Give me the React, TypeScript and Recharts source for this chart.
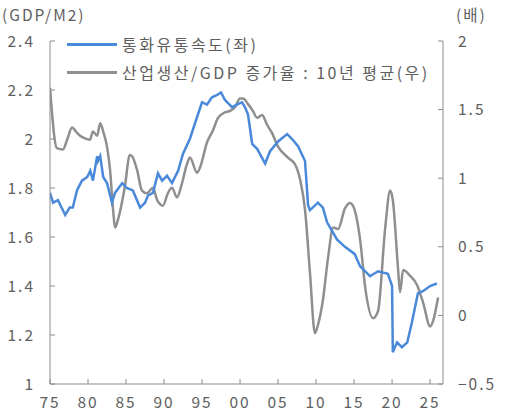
import React from "react";
import { LineChart, Line, XAxis, YAxis } from "recharts";

// 통화유통속도 (좌축, GDP/M2)
const velocityYears = [
  1975.0, 1975.4, 1976.05, 1977.0, 1977.6, 1978.0, 1978.55, 1979.2, 1979.9, 1980.3,
  1980.65, 1981.2, 1981.3, 1981.6, 1982.0, 1982.5, 1983.15, 1983.55, 1984.5, 1985.1,
  1985.9, 1986.85, 1987.5, 1987.9, 1988.55, 1989.2, 1989.75, 1990.4, 1991.05, 1991.85,
  1992.5, 1993.4, 1994.35, 1995.0, 1995.65, 1996.3, 1997.0, 1997.5, 1998.0, 1998.95,
  1999.6, 2000.25, 2000.65, 2001.05, 2001.6, 2002.25, 2003.3, 2003.95, 2005.0, 2006.2,
  2006.85, 2007.65, 2008.55, 2008.95, 2009.2, 2010.25, 2010.9, 2011.45, 2012.75, 2013.8,
  2015.1, 2015.8, 2017.1, 2018.15, 2019.45, 2020.0, 2020.1, 2020.65, 2021.3, 2022.0,
  2022.6, 2023.4, 2024.1, 2025.0, 2025.9,
];
const velocityValues = [
  1.78, 1.74, 1.75, 1.69, 1.72, 1.72, 1.79, 1.83, 1.845, 1.87,
  1.83, 1.93, 1.91, 1.93, 1.845, 1.82, 1.74, 1.78, 1.82, 1.8,
  1.79, 1.72, 1.74, 1.77, 1.78, 1.86, 1.83, 1.85, 1.82, 1.87,
  1.94, 2.0, 2.09, 2.15, 2.14, 2.17, 2.18, 2.19, 2.16, 2.13,
  2.14, 2.15, 2.13, 2.1, 1.98, 1.96, 1.9, 1.95, 1.99, 2.02,
  2.0, 1.97, 1.91, 1.73, 1.71, 1.74, 1.72, 1.66, 1.59, 1.56,
  1.53, 1.48, 1.44, 1.46, 1.45, 1.4, 1.13, 1.17, 1.15, 1.17,
  1.25, 1.37, 1.38, 1.4, 1.41,
];

// 산업생산/GDP 증가율 : 10년 평균 (우축, 배)
const ratioYears = [
  1975.0, 1975.9, 1976.7, 1977.25, 1977.9, 1978.55, 1978.95, 1979.6, 1980.25, 1980.65,
  1981.2, 1981.6, 1982.0, 1982.5, 1982.9, 1983.3, 1983.55, 1983.95, 1984.85, 1985.5,
  1985.8, 1986.45, 1987.1, 1987.75, 1988.55, 1989.1, 1989.85, 1990.5, 1991.05, 1991.7,
  1992.35, 1993.0, 1993.4, 1994.35, 1994.75, 1995.65, 1996.45, 1997.1, 1998.0, 1998.7,
  1999.35, 2000.0, 2000.4, 2001.05, 2001.7, 2002.25, 2002.9, 2003.55, 2004.2, 2005.0,
  2006.3, 2007.25, 2007.9, 2008.55, 2009.2, 2009.85, 2010.25, 2010.9, 2011.6, 2012.25,
  2012.9, 2013.8, 2014.45, 2014.85, 2015.8, 2016.45, 2017.5, 2018.15, 2019.1, 2019.75,
  2020.1, 2020.8, 2021.05, 2021.45, 2022.35, 2023.3, 2024.1, 2025.0, 2025.4, 2026.05,
];
const ratioValues = [
  1.66, 1.22, 1.21, 1.28, 1.37, 1.33, 1.31, 1.29, 1.28, 1.34,
  1.31, 1.4, 1.34, 1.23, 1.06, 0.77, 0.64, 0.7, 0.94, 1.17,
  1.16, 1.06, 0.91, 0.89, 0.93, 0.84, 0.8, 0.89, 0.93, 0.86,
  0.96, 1.1, 1.15, 1.04, 1.08, 1.26, 1.35, 1.44, 1.48, 1.49,
  1.52, 1.58, 1.58, 1.54, 1.49, 1.44, 1.46, 1.39, 1.33, 1.23,
  1.15, 1.1, 0.99, 0.77, 0.31, -0.13, -0.07, 0.11, 0.43, 0.64,
  0.63, 0.78, 0.82, 0.8, 0.55, 0.21, -0.02, 0.03, 0.64, 0.91,
  0.84, 0.33, 0.17, 0.33, 0.29, 0.22, 0.09, -0.08, -0.04, 0.13,
];

const xTicks = [1975, 1980, 1985, 1990, 1995, 2000, 2005, 2010, 2015, 2020, 2025];
const leftTicks = [1, 1.2, 1.4, 1.6, 1.8, 2, 2.2, 2.4];
const rightTicks = [-0.5, 0, 0.5, 1, 1.5, 2];

const seriesNames = ["통화유통속도(좌)", "산업생산/GDP 증가율 : 10년 평균(우)"];
const seriesColors = ["#4a88d9", "#8f8f8f"];

const velocityData = velocityYears.map((year, i) => ({ year, value: velocityValues[i] }));
const ratioData = ratioYears.map((year, i) => ({ year, value: ratioValues[i] }));

const FONT = "'Noto Sans CJK KR', 'Liberation Sans', sans-serif";
const TEXT = "#5e5e5e";
const AXIS = "#8c8c8c";
const tickStyle = { fill: TEXT, fontSize: 15.5, fontFamily: FONT, letterSpacing: 2 };

function LegendBox() {
  return (
    <div
      style={{
        position: "absolute",
        left: 67,
        top: 30,
        fontFamily: FONT,
        fontSize: 16,
        color: TEXT,
        letterSpacing: 2.5,
      }}
    >
      {seriesNames.map((name, i) => (
        <div
          key={name}
          style={{ display: "flex", alignItems: "center", height: 28, whiteSpace: "nowrap" }}
        >
          <div style={{ width: 50, height: 3, background: seriesColors[i], marginRight: 5 }} />
          <span>{name}</span>
        </div>
      ))}
    </div>
  );
}

export default function App() {
  return (
    <div
      style={{
        position: "absolute",
        left: 0,
        top: 0,
        width: 515,
        height: 415,
        background: "#fff",
      }}
    >
      <LineChart width={515} height={415} margin={{ top: 41, right: 0, left: 0, bottom: 0 }}>
        <XAxis
          dataKey="year"
          type="number"
          domain={[1975, 2026.7]}
          ticks={xTicks}
          allowDataOverflow
          tickFormatter={(v: number) => String(v % 100).padStart(2, "0")}
          stroke={AXIS}
          tick={tickStyle}
          tickSize={-5}
          tickMargin={18}
          height={31}
        />
        <YAxis
          yAxisId="left"
          orientation="left"
          domain={[1, 2.4]}
          ticks={leftTicks}
          allowDataOverflow
          stroke={AXIS}
          tick={tickStyle}
          tickSize={-5}
          tickMargin={20}
          width={50}
        />
        <YAxis
          yAxisId="right"
          orientation="right"
          domain={[-0.5, 2]}
          ticks={rightTicks}
          allowDataOverflow
          tickFormatter={(v: number) => (v < 0 ? "\u2212" + Math.abs(v) : String(v))}
          stroke={AXIS}
          tick={tickStyle}
          tickSize={-5}
          tickMargin={20}
          width={72}
        />
        <Line
          yAxisId="right"
          data={ratioData}
          dataKey="value"
          name={seriesNames[1]}
          type="monotone"
          stroke={seriesColors[1]}
          strokeWidth={2.5}
          dot={false}
          isAnimationActive={false}
        />
        <Line
          yAxisId="left"
          data={velocityData}
          dataKey="value"
          name={seriesNames[0]}
          type="linear"
          stroke={seriesColors[0]}
          strokeWidth={2.5}
          dot={false}
          isAnimationActive={false}
        />
      </LineChart>
      <LegendBox />
      <div
        style={{
          position: "absolute",
          left: 2,
          top: 3,
          fontFamily: FONT,
          fontSize: 15.5,
          color: TEXT,
          letterSpacing: 2,
        }}
      >
        (GDP/M2)
      </div>
      <div
        style={{
          position: "absolute",
          left: 456,
          top: 3,
          fontFamily: FONT,
          fontSize: 15.5,
          color: TEXT,
          letterSpacing: 2,
        }}
      >
        (배)
      </div>
    </div>
  );
}
